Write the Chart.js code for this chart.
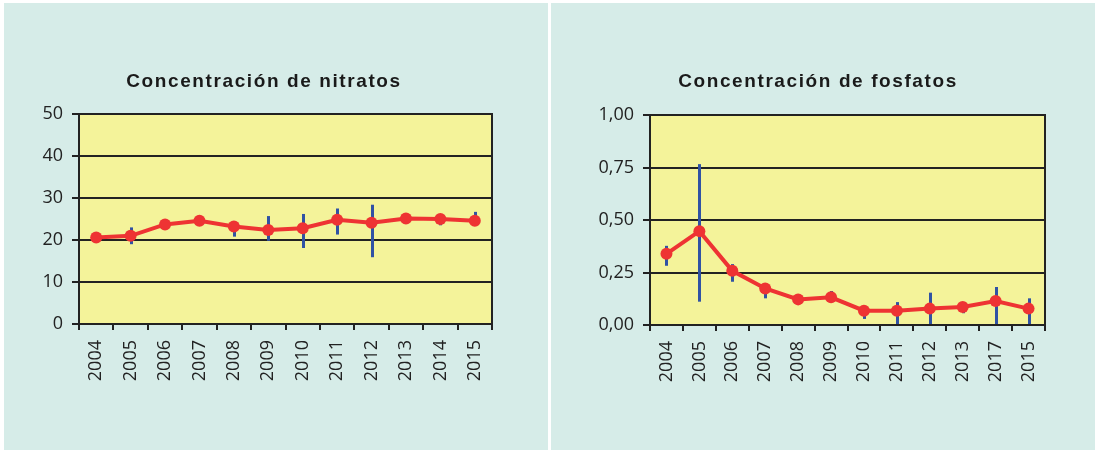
<!DOCTYPE html>
<html>
<head>
<meta charset="utf-8">
<script src="https://cdn.jsdelivr.net/npm/chart.js@4.4.1/dist/chart.umd.min.js"></script>
<style>
  html, body { margin: 0; padding: 0; background: #fff; }
  body { width: 1095px; height: 450px; position: relative; overflow: hidden; }
  .panel { position: absolute; top: 3px; width: 544px; height: 447px; background: #d6ece8; }
  .panel canvas { display: block; }
  #p1 { left: 4px; }
  #p2 { left: 551px; }
</style>
</head>
<body>
<div class="panel" id="p1"><canvas id="nitratos" width="544" height="447"></canvas></div>
<div class="panel" id="p2"><canvas id="fosfatos" width="544" height="447"></canvas></div>
<script>
// nitratos (mg/l)
const nitYears = ['2004','2005','2006','2007','2008','2009','2010','2011','2012','2013','2014','2015'];
const nitMean  = [20.6, 21.0, 23.7, 24.6, 23.2, 22.4, 22.8, 24.8, 24.1, 25.1, 25.0, 24.6];
const nitLow   = [null, 19.0, null, null, 20.8, 19.8, 18.1, 21.3, 15.9, null, 23.5, 24.0];
const nitHigh  = [null, 23.0, null, null, 24.0, 25.7, 26.2, 27.5, 28.4, null, 25.5, 26.7];

// fosfatos (mg/l)
const fosYears = ['2004','2005','2006','2007','2008','2009','2010','2011','2012','2013','2017','2015'];
const fosMean  = [0.339, 0.447, 0.258, 0.174, 0.122, 0.132, 0.068, 0.068, 0.078, 0.086, 0.114, 0.078];
const fosLow   = [0.282, 0.111, 0.206, 0.127, null, 0.120, 0.029, 0.000, 0.000, 0.056, 0.000, 0.000];
const fosHigh  = [0.377, 0.766, 0.290, 0.170, null, 0.162, 0.070, 0.109, 0.154, 0.090, 0.181, 0.127];

const INK = '#222';
const RED = '#ee3333';
const BLUE = '#3052a4';

// yellow plot background, dark frame and the blue error bars behind the line
const plotBox = {
  id: 'plotBox',
  beforeDraw(chart) {
    const { ctx, chartArea: a } = chart;
    ctx.save();
    ctx.fillStyle = '#f4f39a';
    ctx.fillRect(a.left, a.top, a.right - a.left, a.bottom - a.top);
    ctx.restore();
  },
  beforeDatasetsDraw(chart, args, opts) {
    const { ctx, chartArea: a } = chart;
    const x = chart.scales.x, y = chart.scales.y;
    ctx.save();
    ctx.strokeStyle = BLUE;
    ctx.lineWidth = 3;
    opts.low.forEach((lo, i) => {
      const hi = opts.high[i];
      if (lo == null || hi == null) return;
      const px = Math.round(x.getPixelForValue(i)) + 0.5;
      ctx.beginPath();
      ctx.moveTo(px, y.getPixelForValue(lo));
      ctx.lineTo(px, y.getPixelForValue(hi));
      ctx.stroke();
    });
    ctx.strokeStyle = INK;
    ctx.lineWidth = 2;
    ctx.strokeRect(a.left, a.top, a.right - a.left, a.bottom - a.top);
    ctx.restore();
  }
};

// spaced bold title
const spacedTitle = {
  id: 'spacedTitle',
  afterDraw(chart, args, opts) {
    const ctx = chart.ctx;
    ctx.save();
    ctx.font = 'bold 19px "Liberation Sans", Arial, sans-serif';
    ctx.letterSpacing = '1.6px';
    ctx.fillStyle = '#1a1a1a';
    ctx.textAlign = 'center';
    ctx.textBaseline = 'alphabetic';
    ctx.fillText(opts.text, opts.cx, opts.baseline);
    ctx.restore();
  }
};

function makeChart(id, labels, mean, low, high, cfg) {
  return new Chart(document.getElementById(id), {
    type: 'line',
    data: {
      labels: labels,
      datasets: [{
        data: mean,
        borderColor: RED,
        backgroundColor: RED,
        borderWidth: 4,
        pointRadius: 6,
        pointBorderWidth: 0,
        pointBackgroundColor: RED,
        tension: 0
      }]
    },
    options: {
      responsive: false,
      devicePixelRatio: 1,
      animation: false,
      layout: { padding: { top: cfg.top, right: cfg.right, left: 0, bottom: 0 } },
      plugins: {
        legend: { display: false },
        tooltip: { enabled: false },
        plotBox: { low: low, high: high },
        spacedTitle: { text: cfg.title, cx: cfg.titleX, baseline: 84 }
      },
      scales: {
        x: {
          offset: true,
          afterFit: s => { s.height = cfg.xh; },
          grid: { drawOnChartArea: false, offset: true, tickLength: 6, color: INK, lineWidth: 2 },
          border: { color: INK, width: 2 },
          ticks: {
            minRotation: 90, maxRotation: 90, padding: 10, color: INK,
            font: { family: '"Open Sans", sans-serif', size: 18 }
          }
        },
        y: {
          min: 0, max: cfg.max,
          afterFit: s => { s.width = cfg.yw; },
          grid: { color: INK, lineWidth: 2, tickLength: 7, tickColor: INK },
          border: { color: INK, width: 2 },
          ticks: {
            stepSize: cfg.step, padding: 9, color: INK,
            font: { family: '"Open Sans", sans-serif', size: 18 },
            callback: cfg.fmt
          }
        }
      }
    },
    plugins: [plotBox, spacedTitle]
  });
}

makeChart('nitratos', nitYears, nitMean, nitLow, nitHigh, {
  title: 'Concentración de nitratos', titleX: 260,
  top: 111, right: 56, yw: 75, xh: 126,
  max: 50, step: 10, fmt: v => String(v)
});

makeChart('fosfatos', fosYears, fosMean, fosLow, fosHigh, {
  title: 'Concentración de fosfatos', titleX: 267,
  top: 112, right: 50, yw: 99, xh: 125,
  max: 1, step: 0.25, fmt: v => v.toFixed(2).replace('.', ',')
});
</script>
</body>
</html>
